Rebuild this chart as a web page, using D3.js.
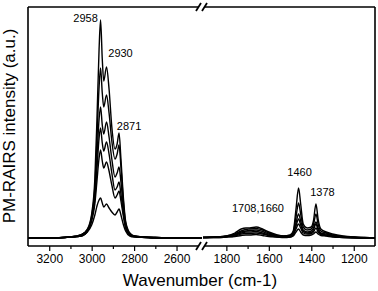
<!DOCTYPE html>
<html lang="en">
<head>
<meta charset="UTF-8">
<title>PM-RAIRS spectra</title>
<script src="https://d3js.org/d3.v7.min.js"></script>
<style>
    body { margin: 0; background: #fff; font-family: "Liberation Sans", Arial, sans-serif; }
    svg { display: block; }
    .tick text { font-size: 12px; font-family: "Liberation Sans", Arial, sans-serif; }
</style>
</head>
<body>
<svg id="chart" width="378" height="291"></svg>
<script>
    // CH stretching region (left panel)
    const wnHigh = [3300, 3200, 3100, 3050, 3020, 3000, 2985, 2975, 2965, 2958, 2950, 2943, 2930, 2918,
                    2905, 2890, 2880, 2871, 2862, 2850, 2840, 2820, 2800, 2750, 2700, 2600, 2480];
    const high1 = [1, 1, 2, 4, 10, 25, 60, 120, 190, 219, 180, 158, 172, 150, 112, 90, 95, 106, 80, 40, 18, 6, 3, 2, 1.5, 1, 1];
    const high2 = [1, 1, 2, 4, 9, 23, 52, 100, 152, 171, 146, 132, 144, 126, 98, 80, 85, 94, 72, 36, 16, 5, 3, 2, 1.5, 1, 1];
    const high3 = [1, 1, 2, 4, 9, 21, 45, 82, 120, 132, 114, 105, 117, 102, 80, 62, 66, 72, 57, 30, 14, 5, 3, 2, 1.5, 1, 1];
    const high4 = [1, 1, 2, 3, 8, 20, 40, 70, 101, 111, 96, 88, 97, 85, 66, 49, 52, 57, 45, 25, 12, 4, 2.5, 2, 1.5, 1, 1];
    const high5 = [1, 1, 2, 3, 8, 18, 35, 58, 81, 89, 78, 71, 77, 68, 54, 41, 44, 48, 38, 22, 11, 4, 2.5, 1.5, 1, 1, 1];
    const high6 = [1, 1, 2, 3, 7, 14, 24, 33, 39, 41, 36, 32, 35, 31, 27, 24, 27, 30, 24, 14, 8, 3, 2, 1.5, 1, 1, 1];

    // fingerprint region (right panel)
    const wnLow = [1910, 1850, 1800, 1760, 1730, 1708, 1690, 1660, 1630, 1600, 1560, 1530, 1500, 1485, 1472,
                   1460, 1450, 1438, 1420, 1400, 1390, 1378, 1368, 1355, 1330, 1300, 1250, 1200, 1150, 1100];
    const low1 = [1.5, 2, 3, 6, 10, 11, 11, 12, 10, 7, 4, 3, 4, 8, 30, 51, 35, 15, 11, 12, 18, 35, 20, 10, 7, 5, 3, 2, 1.5, 1];
    const low2 = [1.5, 2, 3, 5, 8, 9.5, 10, 10.5, 9, 6, 3.5, 3, 3.5, 7, 22, 36, 25, 12, 9, 10, 14, 25, 15, 8, 6, 4, 2.5, 2, 1.5, 1];
    const low3 = [1.5, 2, 2.5, 4.5, 7, 8, 8.5, 9, 7.5, 5, 3, 2.5, 3, 6, 16, 25, 18, 9, 7, 8, 11, 17, 11, 6, 5, 3.5, 2, 1.5, 1, 1];
    const low4 = [1.5, 2, 2.5, 4, 6, 7, 7, 7.5, 6, 4, 2.5, 2, 2.5, 5, 13, 20, 14, 7.5, 6, 6.5, 9, 15, 9, 5, 4, 3, 2, 1.5, 1, 1];
    const low5 = [1.5, 1.5, 2, 3, 5, 5.5, 5.5, 6, 5, 3.5, 2, 2, 2, 4, 10, 15, 11, 6, 5, 5.5, 7, 11, 7, 4.5, 3.5, 2.5, 1.5, 1.5, 1, 1];
    const low6 = [1.5, 1.5, 2, 2.5, 3.5, 4, 4, 4.5, 3.5, 2.5, 2, 1.5, 2, 3, 7, 10, 7, 4, 3.5, 4, 5, 7, 5, 3.5, 3, 2, 1.5, 1, 1, 1];

    const highTicks = [3200, 3000, 2800, 2600];
    const highMinor = [3100, 2900, 2700];
    const lowTicks = [1800, 1600, 1400, 1200];
    const lowMinor = [1700, 1500, 1300];

    const peakLabels = ["2958", "2930", "2871", "1708,1660", "1460", "1378"];
    const peakWn = [2958, 2930, 2871, 1684, 1460, 1378];

    const svg = d3.select("#chart");
    const frameTop = 7, frameBottom = 246, frameLeft = 28, frameRight = 375, breakX = 201.5;

    const xHigh = d3.scaleLinear().domain([3300, 2480]).range([frameLeft, 202]);
    const xLow = d3.scaleLinear().domain([1910, 1100]).range([203, frameRight]);
    const y = d3.scaleLinear().domain([0, 219]).range([239, 20]);

    function drawSet(wn, sets, x) {
        const line = d3.line()
            .x((d, i) => x(wn[i]))
            .y(d => y(d))
            .curve(d3.curveMonotoneX);
        svg.append("g").selectAll("path")
            .data(sets)
            .enter().append("path")
            .attr("d", line)
            .attr("fill", "none")
            .attr("stroke", "#000")
            .attr("stroke-width", 1.4);
    }
    drawSet(wnHigh, [high6, high5, high4, high3, high2, high1], xHigh);
    drawSet(wnLow, [low6, low5, low4, low3, low2, low1], xLow);

    // axes
    function axis(x, major, minor) {
        const g = svg.append("g").attr("transform", `translate(0,${frameBottom})`);
        g.call(d3.axisBottom(x).tickValues(major).tickSize(5).tickPadding(3).tickFormat(d3.format("d")));
        g.append("g").call(d3.axisBottom(x).tickValues(minor).tickSize(3).tickFormat(""));
        g.selectAll(".domain").remove();
        g.selectAll(".tick line").attr("stroke", "#000").attr("stroke-width", 1.2);
        g.selectAll(".tick text").attr("fill", "#000");
    }
    axis(xHigh, highTicks, highMinor);
    axis(xLow, lowTicks, lowMinor);

    // frame with axis break
    const frame = svg.append("g").attr("stroke", "#000").attr("stroke-width", 1.6).attr("fill", "none");
    [frameTop, frameBottom].forEach(yy => {
        frame.append("line").attr("x1", frameLeft).attr("x2", breakX - 3).attr("y1", yy).attr("y2", yy);
        frame.append("line").attr("x1", breakX + 3).attr("x2", frameRight).attr("y1", yy).attr("y2", yy);
        [-3, 3].forEach(off => {
            frame.append("line")
                .attr("x1", breakX + off - 2.5).attr("y1", yy + 4)
                .attr("x2", breakX + off + 2.5).attr("y2", yy - 4)
                .attr("stroke-width", 1.8);
        });
    });
    frame.append("line").attr("x1", frameLeft).attr("x2", frameLeft).attr("y1", frameTop).attr("y2", frameBottom);
    frame.append("line").attr("x1", frameRight).attr("x2", frameRight).attr("y1", frameTop).attr("y2", frameBottom);

    // peak annotations
    const labelOffsets = [[-15, 22], [14, 57], [10, 130], [7, 212], [1, 176], [6.5, 196]];
    svg.append("g").selectAll("text")
        .data(peakLabels)
        .enter().append("text")
        .attr("x", (d, i) => (peakWn[i] > 2400 ? xHigh(peakWn[i]) : xLow(peakWn[i])) + labelOffsets[i][0])
        .attr("y", (d, i) => labelOffsets[i][1])
        .attr("text-anchor", "middle")
        .attr("font-size", "11px")
        .text(d => d);

    // axis titles
    svg.append("text")
        .attr("x", 200).attr("y", 286)
        .attr("text-anchor", "middle")
        .attr("font-size", "17px")
        .text("Wavenumber (cm-1)");
    svg.append("text")
        .attr("transform", "translate(15,126) rotate(-90)")
        .attr("text-anchor", "middle")
        .attr("font-size", "17px")
        .text("PM-RAIRS intensity (a.u.)");
</script>
</body>
</html>
